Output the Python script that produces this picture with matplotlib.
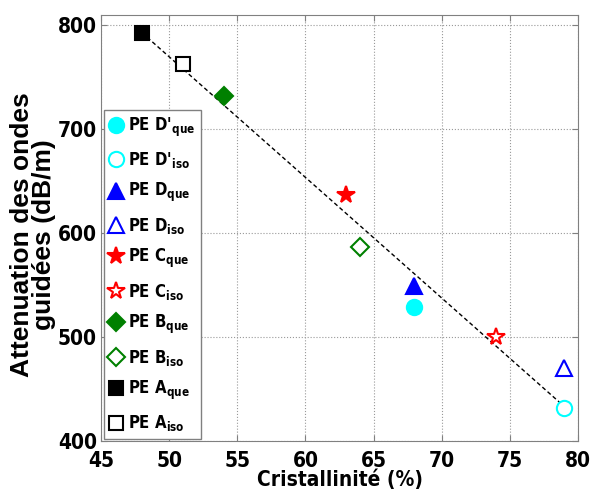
import matplotlib
matplotlib.use("Agg")
import matplotlib.pyplot as plt
from matplotlib import font_manager

# --- data ---
labels = ["PE D'$_{\\mathrm{que}}$", "PE D'$_{\\mathrm{iso}}$",
          "PE D$_{\\mathrm{que}}$", "PE D$_{\\mathrm{iso}}$",
          "PE C$_{\\mathrm{que}}$", "PE C$_{\\mathrm{iso}}$",
          "PE B$_{\\mathrm{que}}$", "PE B$_{\\mathrm{iso}}$",
          "PE A$_{\\mathrm{que}}$", "PE A$_{\\mathrm{iso}}$"]
cristallinite = [68, 79, 68, 79, 63, 74, 54, 64, 48, 51]
attenuation = [529, 432, 549, 470, 637, 500, 732, 587, 793, 763]
markers = ["o", "o", "^", "^", "*", "*", "D", "D", "s", "s"]
colors = ["cyan", "cyan", "blue", "blue", "red", "red",
          "green", "green", "black", "black"]
filled = [True, False, True, False, True, False, True, False, True, False]
sizes = [11, 11, 11, 11, 13, 13, 9, 9, 10, 10]

fit_x = [48, 79]
fit_y = [793, 433]

xticks = [45, 50, 55, 60, 65, 70, 75, 80]
yticks = [400, 500, 600, 700, 800]

plt.rcParams["mathtext.fontset"] = "custom"
plt.rcParams["mathtext.rm"] = "DejaVu Sans:weight=bold:stretch=condensed"

fig = plt.figure(figsize=(5.98, 5.01), dpi=100)
ax = fig.add_axes([0.169, 0.12, 0.7976, 0.85])

ax.plot(fit_x, fit_y, linestyle=(0, (3, 2)), color="black", lw=1, zorder=2)

for x, y, m, c, f, s, lab in zip(cristallinite, attenuation, markers, colors,
                                 filled, sizes, labels):
    ax.plot([x], [y], linestyle="none", marker=m, markersize=s,
            markeredgecolor=c, markerfacecolor=c if f else "white",
            markeredgewidth=1.5, label=lab, zorder=3)

ax.set_xlim(45, 80)
ax.set_ylim(400, 810)
ax.set_xticks(xticks)
ax.set_yticks(yticks)
ax.grid(True, linestyle=":", color="#999999", lw=0.8)
ax.tick_params(direction="in", top=True, right=True, length=4,
               color="#808080")
ax.tick_params(axis="x", pad=7)
ax.tick_params(axis="y", pad=3)

tick_font = font_manager.FontProperties(family="DejaVu Sans", weight="bold",
                                        stretch="condensed", size=15)
for lab in ax.get_xticklabels() + ax.get_yticklabels():
    lab.set_fontproperties(tick_font)
for sp in ax.spines.values():
    sp.set_color("#808080")

ax.set_xlabel("Cristallinité (%)", fontproperties=tick_font, labelpad=-1)
ax.set_ylabel("Attenuation des ondes\nguidées (dB/m)", family="Liberation Sans",
              fontweight="bold", fontsize=19, linespacing=0.92)
ax.yaxis.set_label_coords(-0.094, 0.484)

leg_font = font_manager.FontProperties(family="DejaVu Sans", weight="bold",
                                       stretch="condensed", size=12)
leg = ax.legend(loc="lower left", bbox_to_anchor=(0.002, 0.0),
                prop=leg_font, handlelength=0.8, handletextpad=0.3,
                labelspacing=0.68, borderpad=0.35, fancybox=False,
                framealpha=1, edgecolor="#808080", borderaxespad=0.1)
leg.get_frame().set_linewidth(1)

fig.savefig("out.png", dpi=100)
